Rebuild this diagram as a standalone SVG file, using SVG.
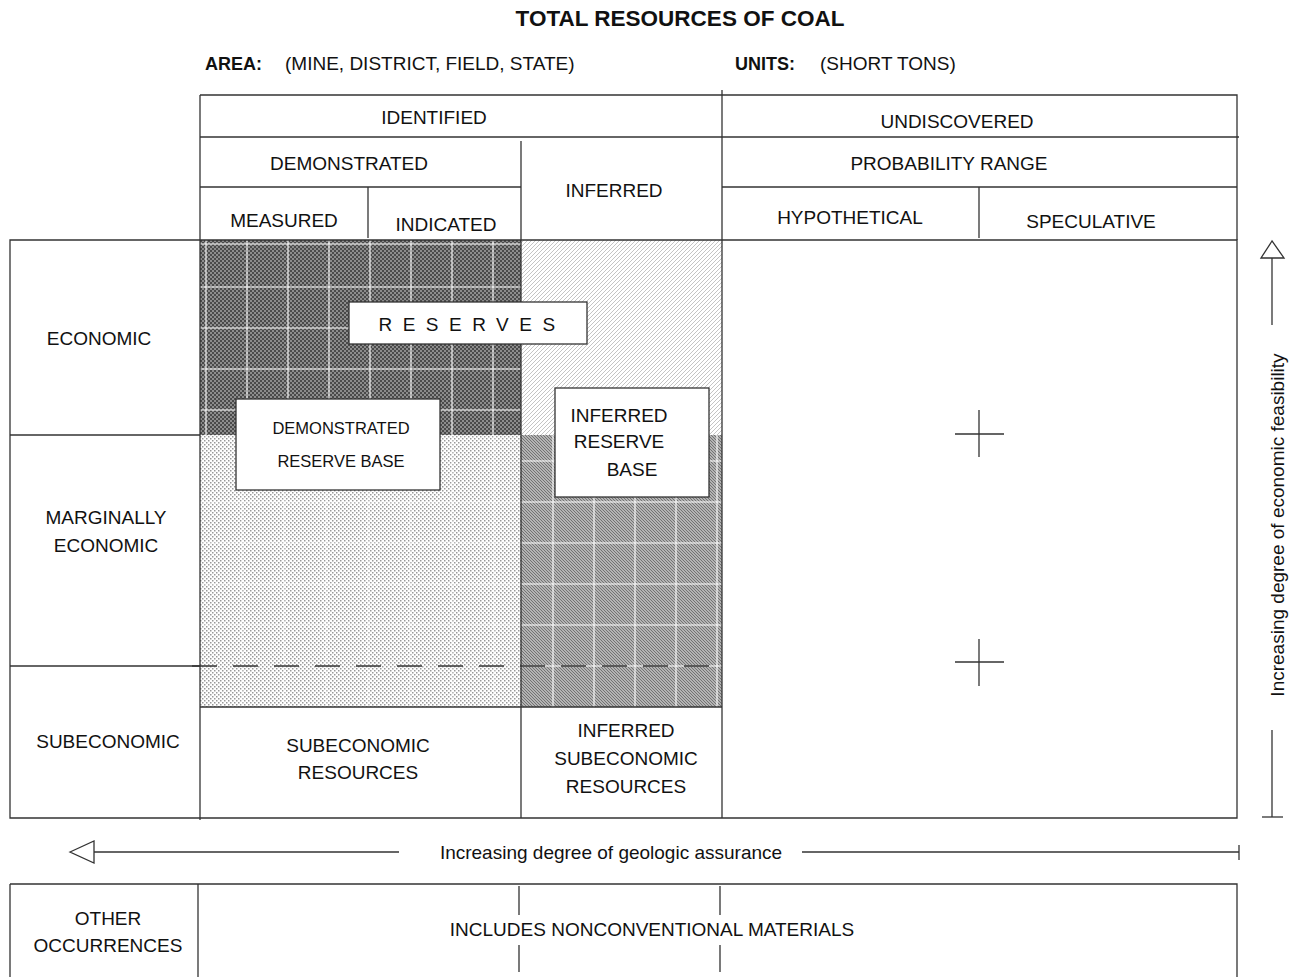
<svg xmlns="http://www.w3.org/2000/svg" width="1293" height="977" viewBox="0 0 1293 977">
<style>
  text { font-family: "Liberation Sans", Arial, sans-serif; font-size: 19px; fill: #111; }
  .c { text-anchor: middle; }
  .b { font-weight: bold; }
  .ln { stroke: #333; stroke-width: 1.3; fill: none; }
  .box { fill: #fff; stroke: #333; stroke-width: 1.3; }
  .wg { stroke: #fff; stroke-width: 1.1; fill: none; }
  .wgl { stroke: #fff; stroke-width: 1; fill: none; opacity: 0.6; }
</style>
<defs>
  <pattern id="checker" width="4" height="4" patternUnits="userSpaceOnUse">
    <rect width="4" height="4" fill="#8c8c8c"/>
    <rect x="0" y="0" width="2" height="2" fill="#4a4a4a"/>
    <rect x="2" y="2" width="2" height="2" fill="#4a4a4a"/>
  </pattern>
  <pattern id="hatchLight" width="4" height="4" patternUnits="userSpaceOnUse">
    <rect width="4" height="4" fill="#fff"/>
    <path d="M-1,1 L1,-1 M0,4 L4,0 M3,5 L5,3" stroke="#aaa" stroke-width="0.7"/>
  </pattern>
  <pattern id="dots" width="4" height="4" patternUnits="userSpaceOnUse">
    <rect width="4" height="4" fill="#fff"/>
    <rect x="0" y="0" width="1.5" height="1.5" fill="#999"/>
    <rect x="2" y="2" width="1.5" height="1.5" fill="#999"/>
  </pattern>
  <pattern id="hatchDark" width="3" height="3" patternUnits="userSpaceOnUse">
    <rect width="3" height="3" fill="#d0d0d0"/>
    <path d="M-1,-1 L4,4 M-1,2 L1,4 M2,-1 L4,1" stroke="#6e6e6e" stroke-width="1.1"/>
  </pattern>
</defs>

<g id="title">
  <text class="c b" x="680" y="26" style="font-size:22.5px">TOTAL RESOURCES OF COAL</text>
  <text class="b" x="205" y="70" style="font-size:18px">AREA:</text>
  <text x="285" y="70">(MINE, DISTRICT, FIELD, STATE)</text>
  <text class="b" x="735" y="70" style="font-size:18px">UNITS:</text>
  <text x="820" y="70">(SHORT TONS)</text>
</g>

<g id="patterns">
  <rect x="200" y="240" width="321" height="195" fill="url(#checker)"/>
  <rect x="521" y="240" width="201" height="195" fill="url(#hatchLight)"/>
  <rect x="200" y="435" width="321" height="272" fill="url(#dots)"/>
  <rect x="521" y="435" width="201" height="272" fill="url(#hatchDark)"/>
  <path class="wg" d="M206,240 V435 M247,240 V435 M288,240 V435 M329,240 V435 M370,240 V435 M411,240 V435 M452,240 V435 M493,240 V435 M200,244 H521 M200,287 H521 M200,328 H521 M200,369 H521 M200,410 H521"/>
  <path class="wgl" d="M242,435 V707 M284,435 V707 M326,435 V707 M368,435 V707 M410,435 V707 M452,435 V707 M494,435 V707 M200,502 H521 M200,543 H521 M200,584 H521 M200,625 H521"/>
  <path class="wg" d="M553,435 V707 M594,435 V707 M635,435 V707 M676,435 V707 M717,435 V707 M521,461 H722 M521,502 H722 M521,543 H722 M521,584 H722 M521,625 H722 M521,666 H722"/>
</g>

<g id="connectors">
  <!-- header -->
  <path class="ln" d="M200,95 H1237 V240"/>
  <path class="ln" d="M722,90 V818"/>
  <path class="ln" d="M200,137 H1239"/>
  <path class="ln" d="M521,141 V240"/>
  <path class="ln" d="M200,187 H521"/>
  <path class="ln" d="M722,187 H1237"/>
  <path class="ln" d="M368,187 V238"/>
  <path class="ln" d="M979,187 V238"/>
  <!-- main grid -->
  <path class="ln" d="M10,240 H1237 V818 H10 Z"/>
  <path class="ln" d="M200,95 V820"/>
  <path class="ln" d="M521,240 V818"/>
  <path class="ln" d="M10,435 H200"/>
  <path class="ln" d="M10,666 H200"/>
  <path class="ln" d="M192,666 H710" stroke-dasharray="25 16"/>
  <path class="ln" d="M200,707 H722"/>
  <!-- crosses -->
  <path class="ln" stroke="#777" d="M955,434 H1004 M979,410 V457"/>
  <path class="ln" d="M955,662 H1004"/>
  <path class="ln" stroke="#777" d="M979,639 V686"/>
  <!-- vertical arrow -->
  <path class="ln" stroke="#666" d="M1272,258 V325"/>
  <path class="ln" fill="#fff" d="M1272,241 L1261,258 H1284 Z"/>
  <path class="ln" stroke="#666" d="M1272,730 V817"/>
  <path class="ln" d="M1262,817 H1283"/>
  <!-- horizontal arrow -->
  <path class="ln" stroke="#666" d="M94,852 H399"/>
  <path class="ln" fill="#fff" d="M70,852 L94,841 V863 Z"/>
  <path class="ln" stroke="#666" d="M802,852 H1239"/>
  <path class="ln" d="M1239,845 V860"/>
  <!-- bottom box -->
  <path class="ln" d="M10,884 H1237 V977 M10,884 V977"/>
  <path class="ln" d="M198,884 V977"/>
  <path class="ln" d="M519,886 V915 M519,945 V972"/>
  <path class="ln" d="M720,886 V915 M720,945 V972"/>
</g>

<g id="header-labels">
  <text class="c" x="434" y="124">IDENTIFIED</text>
  <text class="c" x="957" y="128">UNDISCOVERED</text>
  <text class="c" x="349" y="170">DEMONSTRATED</text>
  <text class="c" x="614" y="197">INFERRED</text>
  <text class="c" x="949" y="170">PROBABILITY RANGE</text>
  <text class="c" x="284" y="227">MEASURED</text>
  <text class="c" x="446" y="231">INDICATED</text>
  <text class="c" x="850" y="224">HYPOTHETICAL</text>
  <text class="c" x="1091" y="228">SPECULATIVE</text>
</g>

<g id="row-labels">
  <text class="c" x="99" y="345">ECONOMIC</text>
  <text class="c" x="106" y="524">MARGINALLY</text>
  <text class="c" x="106" y="552">ECONOMIC</text>
  <text class="c" x="108" y="748">SUBECONOMIC</text>
</g>

<g id="reserves">
  <rect class="box" x="349" y="302" width="238" height="42"/>
  <text class="c" x="472" y="331" style="letter-spacing:10.5px">RESERVES</text>
</g>

<g id="demonstrated-reserve-base">
  <rect class="box" x="236" y="399" width="204" height="91"/>
  <text class="c" x="341" y="434" style="font-size:16.5px">DEMONSTRATED</text>
  <text class="c" x="341" y="467" style="font-size:16.5px">RESERVE BASE</text>
</g>

<g id="inferred-reserve-base">
  <rect class="box" x="555" y="388" width="154" height="109"/>
  <text class="c" x="619" y="422">INFERRED</text>
  <text class="c" x="619" y="448">RESERVE</text>
  <text class="c" x="632" y="476">BASE</text>
</g>

<g id="subeconomic-resources">
  <text class="c" x="358" y="752">SUBECONOMIC</text>
  <text class="c" x="358" y="779">RESOURCES</text>
</g>

<g id="inferred-subeconomic-resources">
  <text class="c" x="626" y="737">INFERRED</text>
  <text class="c" x="626" y="765">SUBECONOMIC</text>
  <text class="c" x="626" y="793">RESOURCES</text>
</g>

<g id="axis-labels">
  <text class="c" x="0" y="0" transform="translate(1284,525) rotate(-90)">Increasing degree of economic feasibility</text>
  <text class="c" x="611" y="859">Increasing degree of geologic assurance</text>
</g>

<g id="other-occurrences">
  <text class="c" x="108" y="925">OTHER</text>
  <text class="c" x="108" y="952">OCCURRENCES</text>
  <text class="c" x="652" y="936">INCLUDES NONCONVENTIONAL MATERIALS</text>
</g>
</svg>
